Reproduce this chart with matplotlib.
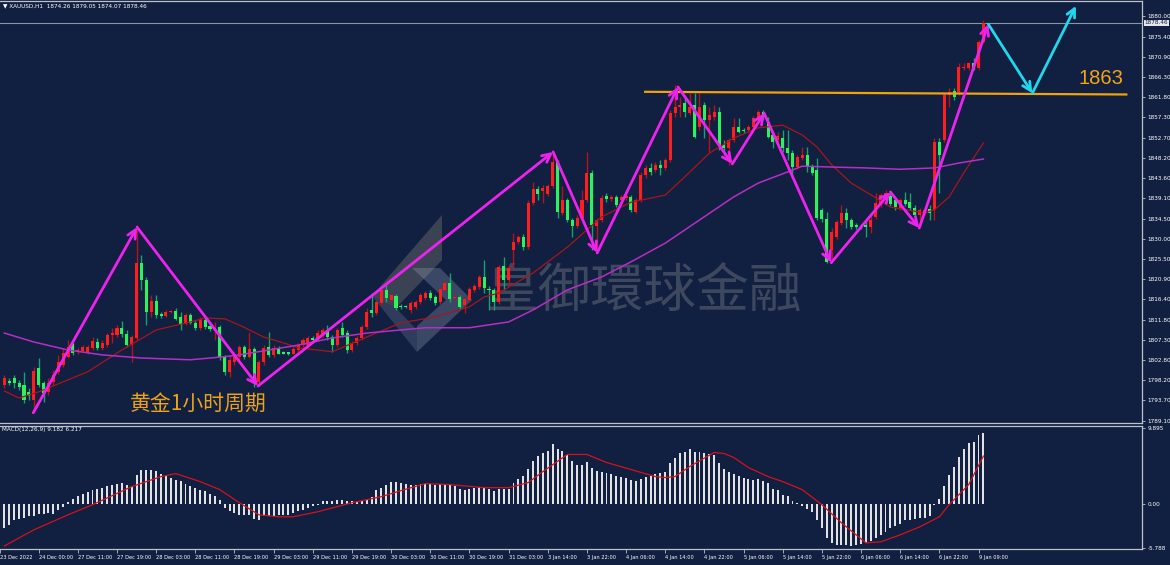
import numpy as np
import matplotlib
matplotlib.use("Agg")
import matplotlib.pyplot as plt
from matplotlib.patches import Polygon

# XAUUSD H1 (bar 0 = first visible candle)
opens = [
    1797.2, 1798.1, 1798.7, 1797.6, 1797.2, 1795.6, 1793.8, 1801.0, 1797.6, 1795.6,
    1797.8, 1800.1, 1801.6, 1803.5, 1806.4, 1804.6, 1804.8, 1804.6, 1805.5, 1806.8,
    1805.5, 1806.1, 1808.4, 1808.4, 1810.0, 1808.6, 1806.1, 1807.7, 1824.6, 1820.7,
    1813.6, 1816.0, 1813.1, 1812.7, 1813.6, 1813.8, 1812.4, 1810.9, 1812.9, 1811.1,
    1810.0, 1811.8, 1810.4, 1809.5, 1810.2, 1803.5, 1800.1, 1802.3, 1803.5, 1805.7,
    1803.5, 1805.3, 1797.8, 1802.3, 1805.7, 1803.9, 1805.5, 1804.4, 1804.4, 1804.2,
    1805.0, 1806.1, 1806.1, 1807.7, 1807.3, 1808.4, 1809.5, 1807.9, 1806.1, 1810.0,
    1808.8, 1805.0, 1806.6, 1807.7, 1810.2, 1814.0, 1813.3, 1815.6, 1818.5, 1816.3,
    1817.2, 1814.9, 1814.9, 1814.0, 1814.7, 1815.8, 1816.7, 1817.8, 1816.9, 1815.8,
    1818.5, 1820.1, 1816.7, 1816.9, 1815.1, 1816.3, 1818.5, 1819.2, 1821.4, 1818.7,
    1818.5, 1815.8, 1823.9, 1820.7, 1827.5, 1829.3, 1830.4, 1828.1, 1838.0, 1841.2,
    1840.7, 1840.0, 1841.8, 1847.2, 1835.8, 1838.7, 1834.2, 1832.9, 1834.7, 1838.7,
    1844.8, 1832.9, 1834.2, 1839.6, 1838.9, 1839.4, 1838.7, 1839.2, 1839.4, 1836.0,
    1838.7, 1844.3, 1845.9, 1845.4, 1846.6, 1845.9, 1847.7, 1858.2, 1859.6, 1860.5,
    1858.2, 1860.0, 1855.1, 1860.0, 1856.7, 1857.3, 1858.5, 1851.0, 1850.4, 1852.2,
    1855.1, 1854.4, 1854.4, 1855.1, 1857.1, 1858.5, 1856.2, 1853.3, 1852.2, 1852.6,
    1850.4, 1849.2, 1846.1, 1848.1, 1848.8, 1846.3, 1845.4, 1836.5, 1834.4, 1827.5,
    1830.4, 1833.5, 1835.8, 1834.2, 1833.1, 1832.9, 1833.1, 1832.6, 1834.9, 1837.6,
    1838.7, 1839.6, 1838.7, 1836.9, 1838.7, 1838.2, 1836.9, 1835.3, 1835.8, 1836.7,
    1836.5, 1851.7, 1852.2, 1862.3, 1863.2, 1862.9, 1868.3, 1868.3, 1869.5, 1868.3,
    1874.26]
highs = [
    1799.4, 1798.7, 1799.4, 1798.3, 1800.1, 1796.5, 1801.2, 1803.2, 1798.1, 1798.7,
    1800.5, 1803.9, 1805.5, 1807.3, 1806.8, 1805.5, 1806.1, 1806.1, 1807.9, 1807.7,
    1807.3, 1808.8, 1810.0, 1810.6, 1811.5, 1809.5, 1808.4, 1833.1, 1826.4, 1821.4,
    1817.4, 1817.4, 1813.6, 1814.0, 1814.0, 1814.5, 1813.6, 1813.3, 1813.3, 1811.8,
    1812.4, 1812.2, 1810.9, 1811.3, 1810.6, 1803.9, 1803.9, 1804.6, 1806.1, 1806.1,
    1809.1, 1805.7, 1802.8, 1806.1, 1809.1, 1806.1, 1805.9, 1804.8, 1804.6, 1805.7,
    1806.6, 1807.7, 1808.2, 1808.2, 1809.5, 1810.0, 1810.6, 1808.4, 1810.0, 1811.3,
    1809.5, 1807.0, 1808.2, 1810.6, 1814.5, 1817.8, 1816.3, 1818.9, 1819.6, 1817.8,
    1817.6, 1815.4, 1815.1, 1816.0, 1816.3, 1817.8, 1818.3, 1818.5, 1817.4, 1819.2,
    1820.5, 1822.3, 1817.4, 1817.4, 1816.9, 1819.2, 1819.8, 1821.9, 1825.2, 1819.4,
    1818.9, 1824.1, 1825.9, 1824.1, 1831.3, 1830.8, 1831.1, 1838.7, 1842.7, 1841.8,
    1842.1, 1842.3, 1849.2, 1847.7, 1841.8, 1839.2, 1834.7, 1835.3, 1840.9, 1849.5,
    1845.4, 1834.7, 1839.8, 1840.3, 1839.8, 1839.8, 1839.8, 1840.0, 1839.8, 1839.2,
    1845.0, 1846.6, 1847.0, 1847.2, 1847.7, 1848.1, 1858.9, 1864.5, 1861.8, 1861.6,
    1862.7, 1862.7, 1862.7, 1860.7, 1859.6, 1860.0, 1859.6, 1852.2, 1852.6, 1857.1,
    1857.1, 1854.9, 1855.5, 1857.6, 1858.9, 1858.9, 1857.3, 1853.9, 1853.9, 1854.4,
    1854.4, 1849.9, 1848.8, 1850.6, 1850.6, 1846.8, 1848.1, 1836.9, 1836.0, 1832.4,
    1834.2, 1837.6, 1836.9, 1834.7, 1833.5, 1833.3, 1834.2, 1835.3, 1840.3, 1840.3,
    1840.9, 1840.5, 1839.2, 1839.2, 1840.5, 1840.3, 1837.6, 1836.9, 1837.1, 1837.6,
    1852.6, 1852.6, 1862.7, 1863.8, 1863.8, 1869.5, 1869.5, 1869.7, 1870.6, 1874.6,
    1879.05]
lows = [
    1796.5, 1797.2, 1796.5, 1796.0, 1793.1, 1793.8, 1791.6, 1796.7, 1793.3, 1794.9,
    1797.2, 1799.6, 1801.2, 1803.2, 1803.9, 1804.2, 1804.6, 1804.2, 1805.0, 1805.0,
    1805.0, 1805.7, 1806.6, 1807.9, 1807.9, 1805.7, 1802.3, 1807.3, 1818.5, 1810.6,
    1812.4, 1812.2, 1812.2, 1812.4, 1813.3, 1811.8, 1809.5, 1810.6, 1810.9, 1809.5,
    1809.5, 1809.7, 1809.3, 1807.3, 1802.8, 1799.4, 1799.0, 1801.6, 1802.8, 1803.0,
    1803.2, 1796.7, 1797.0, 1801.6, 1803.5, 1803.5, 1804.0, 1804.0, 1803.9, 1804.0,
    1804.6, 1805.7, 1805.7, 1806.8, 1807.0, 1807.9, 1807.3, 1804.6, 1805.7, 1807.9,
    1804.4, 1804.6, 1806.1, 1807.3, 1809.7, 1812.4, 1812.9, 1815.1, 1815.8, 1815.8,
    1814.0, 1814.2, 1814.5, 1813.3, 1814.2, 1815.4, 1816.3, 1816.3, 1815.1, 1815.4,
    1818.0, 1815.8, 1816.3, 1814.2, 1813.3, 1815.8, 1818.0, 1818.7, 1817.8, 1814.0,
    1814.0, 1815.4, 1818.5, 1819.6, 1823.4, 1828.8, 1827.5, 1827.7, 1837.6, 1838.7,
    1838.0, 1839.6, 1841.4, 1834.7, 1835.3, 1833.8, 1830.4, 1832.4, 1834.2, 1838.2,
    1827.5, 1826.8, 1833.8, 1838.2, 1838.5, 1837.1, 1838.2, 1838.7, 1836.0, 1835.8,
    1838.2, 1843.6, 1844.3, 1845.0, 1844.3, 1845.4, 1847.2, 1857.3, 1857.3, 1857.3,
    1857.8, 1852.6, 1854.4, 1852.6, 1849.2, 1856.7, 1849.9, 1848.8, 1846.6, 1851.7,
    1853.7, 1853.7, 1854.0, 1854.6, 1856.9, 1856.7, 1852.6, 1850.4, 1851.7, 1849.5,
    1847.7, 1843.9, 1845.7, 1847.7, 1845.0, 1844.3, 1834.2, 1833.8, 1824.6, 1825.2,
    1829.9, 1833.1, 1832.4, 1832.2, 1832.2, 1832.2, 1830.4, 1831.3, 1834.4, 1837.1,
    1838.2, 1837.4, 1836.5, 1836.5, 1837.4, 1836.5, 1834.9, 1832.6, 1835.3, 1834.2,
    1834.2, 1840.3, 1851.7, 1859.6, 1861.2, 1862.3, 1867.9, 1867.9, 1867.9, 1867.9,
    1874.07]
closes = [
    1798.7, 1797.6, 1797.6, 1796.7, 1793.8, 1794.7, 1800.3, 1797.2, 1795.4, 1797.6,
    1799.4, 1802.3, 1804.4, 1805.7, 1804.4, 1805.0, 1805.7, 1805.7, 1807.0, 1805.5,
    1806.6, 1808.4, 1808.8, 1810.0, 1808.6, 1806.1, 1807.9, 1824.6, 1820.7, 1813.6,
    1816.0, 1812.9, 1812.7, 1813.6, 1813.8, 1812.0, 1810.6, 1812.9, 1811.1, 1810.0,
    1812.0, 1810.2, 1809.7, 1810.0, 1803.5, 1800.1, 1802.8, 1803.5, 1805.7, 1803.5,
    1805.3, 1797.8, 1802.3, 1805.5, 1803.9, 1805.5, 1804.2, 1804.2, 1804.2, 1805.3,
    1806.1, 1807.3, 1807.7, 1807.3, 1808.8, 1809.5, 1807.9, 1806.1, 1809.5, 1808.4,
    1805.0, 1806.6, 1807.7, 1810.2, 1813.6, 1813.3, 1815.8, 1818.5, 1816.7, 1817.4,
    1814.5, 1814.7, 1814.7, 1815.6, 1815.8, 1817.4, 1817.8, 1816.7, 1815.6, 1818.7,
    1820.1, 1816.5, 1816.9, 1814.7, 1816.5, 1818.7, 1819.4, 1821.4, 1818.9, 1818.5,
    1815.8, 1823.7, 1820.7, 1823.4, 1829.3, 1830.4, 1828.1, 1838.0, 1841.2, 1840.0,
    1841.4, 1841.8, 1847.2, 1836.0, 1838.7, 1834.2, 1832.9, 1834.7, 1838.7, 1844.8,
    1833.1, 1834.2, 1839.2, 1838.9, 1839.4, 1837.6, 1839.4, 1839.6, 1836.5, 1838.7,
    1844.3, 1845.9, 1845.0, 1846.6, 1845.9, 1847.7, 1858.2, 1859.6, 1860.0, 1858.5,
    1859.6, 1852.8, 1859.6, 1856.7, 1857.8, 1858.5, 1851.0, 1850.4, 1852.2, 1855.1,
    1854.0, 1854.2, 1855.1, 1857.1, 1858.5, 1857.3, 1852.8, 1851.7, 1853.1, 1850.4,
    1849.2, 1846.1, 1848.4, 1848.8, 1846.1, 1844.8, 1834.7, 1834.4, 1824.8, 1831.5,
    1833.8, 1835.8, 1834.2, 1832.6, 1832.6, 1832.6, 1832.6, 1834.2, 1838.0, 1839.8,
    1840.3, 1837.8, 1837.1, 1838.7, 1837.8, 1836.9, 1835.3, 1836.5, 1836.5, 1835.8,
    1851.7, 1848.8, 1862.3, 1862.9, 1861.8, 1868.6, 1868.6, 1869.5, 1868.3, 1874.2,
    1878.46]

# moving averages, read at sample bars
ma_red_idx = [0, 3, 7, 13, 17, 24, 31, 38, 41, 45, 48, 53, 57, 60, 67, 74, 81, 88, 95, 98, 101,
              108, 115, 122, 128, 135, 139, 144, 149, 154, 159, 163, 166, 169, 173, 178, 181,
              188, 190, 193, 196, 200]
ma_red = [1795.8, 1794.2, 1795.6, 1798.3, 1800.1, 1805.0, 1809.5, 1811.3, 1812.2, 1812.0, 1810.6,
          1807.9, 1806.6, 1805.5, 1804.6, 1807.9, 1811.1, 1812.4, 1814.7, 1816.9, 1817.8,
          1822.3, 1828.1, 1834.9, 1838.2, 1839.8, 1843.9, 1849.2, 1852.6, 1854.9, 1855.5,
          1853.3, 1850.6, 1846.6, 1842.5, 1839.2, 1837.1, 1835.8, 1836.5, 1839.4, 1844.8, 1851.5]
ma_pur_idx = [0, 6, 13, 20, 28, 38, 45, 48, 54, 60, 67, 74, 86, 95, 103, 108, 115, 122, 128, 135,
              142, 149, 154, 160, 163, 169, 176, 183, 190, 195, 200]
ma_pur = [1808.8, 1806.8, 1805.0, 1803.9, 1803.2, 1802.8, 1803.5, 1803.9, 1805.0, 1806.1, 1807.7,
          1808.8, 1810.0, 1810.0, 1811.3, 1814.0, 1818.5, 1821.4, 1824.8, 1829.0, 1834.2,
          1839.4, 1842.5, 1845.0, 1846.3, 1846.1, 1845.9, 1845.6, 1845.9, 1847.0, 1847.9]

# MACD(12,26,9)
macd_hist = [
    -3.20, -2.76, -2.10, -2.01, -1.88, -1.66, -1.66, -1.31, -1.36, -1.23,
    -1.31, -0.79, -0.44, 0.18, 0.61, 1.05, 1.31, 1.49, 1.75, 1.93,
    2.06, 2.28, 2.45, 2.63, 2.72, 2.50, 2.37, 3.81, 4.47, 4.47,
    4.38, 4.25, 3.94, 3.68, 3.37, 3.15, 2.93, 2.63, 2.37, 2.06,
    1.84, 1.62, 1.31, 0.96, 0.44, -0.57, -1.01, -1.23, -1.45, -1.45,
    -1.53, -2.01, -2.10, -1.66, -1.66, -1.58, -1.53, -1.45, -1.45, -1.23,
    -1.01, -0.88, -0.57, -0.26, -0.13, 0.31, 0.31, 0.39, 0.53, 0.53,
    0.39, 0.31, 0.18, 0.31, 0.53, 0.88, 1.75, 2.06, 2.50, 2.80,
    2.80, 2.72, 2.58, 2.50, 2.50, 2.58, 2.63, 2.63, 2.50, 2.58,
    2.58, 2.50, 2.28, 1.97, 1.84, 1.97, 2.06, 2.19, 2.06, 1.97,
    1.71, 1.97, 1.97, 1.97, 2.72, 3.29, 3.59, 4.56, 5.56, 6.22,
    6.66, 6.88, 7.75, 7.18, 6.88, 6.31, 5.56, 5.12, 5.12, 5.43,
    4.69, 4.25, 4.12, 4.03, 3.94, 3.68, 3.50, 3.37, 3.07, 2.93,
    3.24, 3.50, 3.68, 3.90, 4.03, 4.16, 5.26, 6.00, 6.57, 6.79,
    7.10, 6.79, 6.75, 6.66, 6.44, 6.31, 5.34, 4.56, 4.12, 3.94,
    3.68, 3.37, 3.24, 3.15, 3.24, 2.93, 2.72, 1.93, 1.75, 1.18,
    0.96, 0.31, 0.09, -0.26, -0.70, -1.14, -2.10, -3.20, -4.51, -5.17,
    -5.39, -5.39, -5.39, -5.48, -5.39, -5.26, -5.17, -4.82, -4.51, -4.07,
    -3.64, -3.20, -2.89, -2.63, -2.19, -2.10, -2.01, -1.88, -1.88, -1.66,
    -0.13, 0.61, 2.37, 3.81, 4.82, 6.13, 7.10, 7.88, 8.06, 8.94,
    9.18]
sig_idx = [0, 6, 13, 18, 26, 32, 35, 40, 44, 48, 52, 56, 59, 64, 71, 77, 81, 86, 91, 98,
           103, 107, 110, 115, 119, 123, 128, 133, 135, 137, 140, 145, 147, 149, 152, 156, 159,
           163, 167, 171, 176, 179, 183, 187, 191, 193, 197, 200]
sig_val = [-5.52, -3.42, -1.45, -0.13, 2.23, 3.55, 3.94, 2.89, 1.84, 0.13, -1.45, -1.71, -1.71,
           -1.05, 0.13, 0.92, 1.71, 2.63, 2.50, 2.10, 2.10, 2.76, 4.20, 6.44, 6.44, 5.39, 4.47,
           3.55, 3.42, 3.55, 4.86, 6.70, 6.57, 6.04, 4.73, 3.55, 2.89, 1.84, -0.13, -2.50, -5.12,
           -4.99, -4.07, -3.02, -1.71, -0.13, 2.50, 6.22]

# hand-drawn zigzag, projection and level (bar index, price)
zz_x = [5.9, 27.1, 51.8, 112.1, 121.1, 137.6, 148.7, 155.2, 168.9, 181.0, 186.9, 201.0]
zz_y = [1790.9, 1832.6, 1796.9, 1849.5, 1826.8, 1864.1, 1846.8, 1858.2, 1824.6, 1840.5, 1832.4, 1878.2]
proj_x = [201.0, 210.0, 218.9]
proj_y = [1878.2, 1862.7, 1882.3]
level_x = [130.9, 229.2]
level_y = [1863.0, 1862.4]

price_ticks = [1880.00, 1875.40, 1870.90, 1866.30, 1861.80, 1857.30, 1852.70, 1848.20, 1843.60,
               1839.10, 1834.50, 1830.00, 1825.50, 1820.90, 1816.40, 1811.80, 1807.30, 1802.80,
               1798.20, 1793.70, 1789.10]
macd_ticks = [9.895, 0.0, -5.788]
macd_tick_labels = ["9.895", "0.00", "-5.788"]
time_labels = ["23 Dec 2022", "24 Dec 00:00", "27 Dec 11:00", "27 Dec 19:00", "28 Dec 03:00",
               "28 Dec 11:00", "28 Dec 19:00", "29 Dec 03:00", "29 Dec 11:00", "29 Dec 19:00",
               "30 Dec 03:00", "30 Dec 11:00", "30 Dec 19:00", "31 Dec 03:00", "3 Jan 14:00",
               "3 Jan 22:00", "4 Jan 06:00", "4 Jan 14:00", "4 Jan 22:00", "5 Jan 06:00",
               "5 Jan 14:00", "5 Jan 22:00", "6 Jan 06:00", "6 Jan 14:00", "6 Jan 22:00",
               "9 Jan 09:00"]

plt.rcParams['font.family'] = ['DejaVu Sans', 'Noto Sans CJK SC']
plt.rcParams['font.stretch'] = 'condensed'

bg = '#111f40'
W, H = 1170, 565
small = 4.6
fig = plt.figure(figsize=(W / 100, H / 100), dpi=100, facecolor=bg)


def fx(px):
    return px / W


def fy(py):
    return 1 - py / H


ax = fig.add_axes([0, fy(423), fx(1142), fy(1) - fy(423)], facecolor=bg)
mx = fig.add_axes([0, fy(549), fx(1142), fy(426) - fy(549)], facecolor=bg, sharex=ax)
ax.set_xlim(-0.9, 232.4)
ax.set_ylim(1788.6, 1883.4)
mx.set_ylim(-5.92, 10.16)

# watermark (under everything)
logo_dark = [(442, 215), (442, 260), (396, 308), (372, 296)]
logo_light = [(412, 268), (440, 268), (472, 300), (417, 352), (417, 326), (446, 300)]
logo_arm = [(372, 296), (396, 308), (417, 330), (417, 352)]
for pts, col, a in [(logo_dark, '#8a8478', 0.35), (logo_light, '#9aa6bc', 0.3), (logo_arm, '#9aa6bc', 0.22)]:
    ax.add_patch(Polygon([(fx(x), fy(y)) for x, y in pts], closed=True, transform=fig.transFigure,
                         facecolor=col, edgecolor='none', alpha=a, zorder=0.5))
ax.text(fx(486), fy(291), '皇御環球金融', transform=fig.transFigure, fontsize=38,
        family='Noto Sans CJK TC', fontstretch='normal', color='#a6a6a6', alpha=0.3,
        va='center', ha='left', zorder=0.6)

# candles
idx = np.arange(len(closes))
o, h, l, c = (np.array(v) for v in (opens, highs, lows, closes))
up = c >= o
ax.vlines(idx, l, h, colors=np.where(up, '#b5141c', '#17a36c'), lw=1, zorder=3)
body = np.maximum(np.abs(c - o), 0.25)
ax.bar(idx, body, bottom=np.minimum(o, c), width=0.62,
       color=np.where(up, '#ff1e1e', '#2cf25c'), linewidth=0, zorder=4)

ax.plot(ma_red_idx, ma_red, color='#a6161c', lw=0.9, zorder=5)
ax.plot(ma_pur_idx, ma_pur, color='#b52fc2', lw=1.1, zorder=5)

ax.axhline(closes[-1], color='#8c95a8', lw=0.8, zorder=2)
ax.plot(level_x, level_y, color='#f2a20c', lw=1.6, zorder=6)


def arrows(xs, ys, color):
    for x0, y0, x1, y1 in zip(xs[:-1], ys[:-1], xs[1:], ys[1:]):
        ax.annotate('', xy=(x1, y1), xytext=(x0, y0), zorder=7,
                    arrowprops=dict(arrowstyle='->,head_length=0.6,head_width=0.3',
                                    color=color, lw=2, shrinkA=0, shrinkB=0))


arrows(zz_x, zz_y, '#ee22ee')
arrows(proj_x, proj_y, '#22d6ee')

# texts
fig.text(fx(3), fy(6), '▼ XAUUSD,H1  %.2f %.2f %.2f %.2f' % (opens[-1], highs[-1], lows[-1], closes[-1]),
         fontsize=small, color='white', va='center')
fig.text(fx(2), fy(430), 'MACD(12,26,9) %.3f %.3f' % (9.182, 6.217),
         fontsize=small, color='white', va='center')
fig.text(fx(130), fy(404), '黄金1小时周期', fontsize=15, family='Noto Sans CJK SC',
         fontstretch='normal', color='#eba31c', va='center')
fig.text(fx(1078), fy(79), '1863', fontsize=14.5, family='Liberation Sans',
         fontstretch='normal', color='#f4a414', va='center')
fig.text(fx(1144.5), fy(23), '%.2f' % closes[-1], fontsize=small, color=bg, va='center',
         bbox=dict(boxstyle='square,pad=0.15', fc='#e4e6ea', ec='none'))

# MACD panel
mx.bar(idx, macd_hist, width=0.4, color='#e2e2e2', linewidth=0, zorder=3)
mx.plot(sig_idx, sig_val, color='#d3121c', lw=0.9, zorder=4)

# axes styling
for a in (ax, mx):
    for name, s in a.spines.items():
        s.set_color('#bcc1ca')
        s.set_linewidth(0.9)
    a.spines['left'].set_visible(False)
    a.yaxis.tick_right()
    a.tick_params(axis='y', length=2.5, width=0.6, color='#bcc1ca', labelsize=small,
                  labelcolor='white', pad=1.5)

ax.set_yticks(price_ticks)
ax.set_yticklabels(['%.2f' % t for t in price_ticks])
ax.tick_params(axis='x', bottom=False, labelbottom=False)
mx.set_yticks(macd_ticks)
mx.set_yticklabels(macd_tick_labels)

xt = [-0.9] + [7 + 8 * k for k in range(len(time_labels) - 1)]
mx.set_xticks(xt)
mx.set_xticklabels(time_labels)
mx.tick_params(axis='x', length=3, width=0.6, color='#bcc1ca', labelsize=4.1,
               labelcolor='white', pad=1.5)
for lbl in mx.get_xticklabels():
    lbl.set_ha('left')

fig.savefig('out.png', dpi=100, facecolor=bg)
